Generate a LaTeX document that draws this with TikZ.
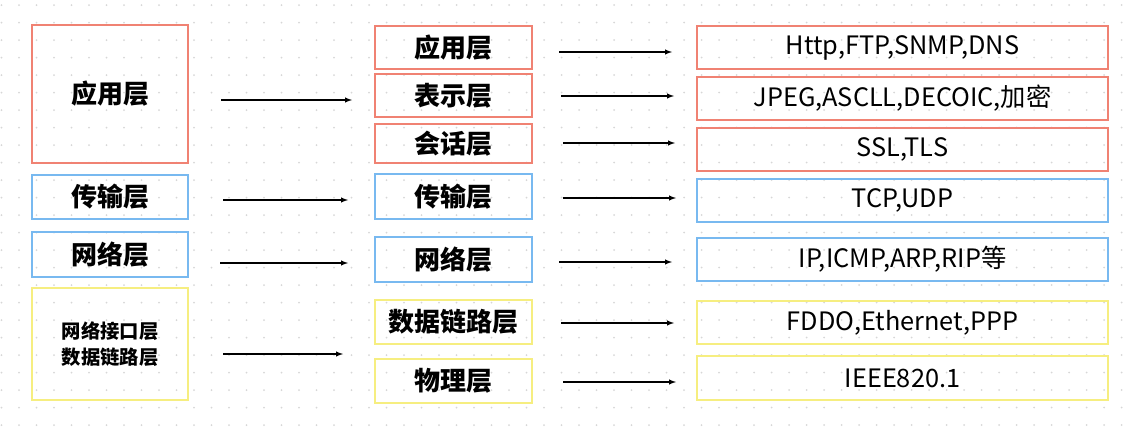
\documentclass[tikz,border=0pt]{standalone}
\usepackage{fontspec}
\setmainfont{Noto Sans CJK SC}
\usepackage{tikz}

\definecolor{layred}{RGB}{240,130,115}
\definecolor{layblue}{RGB}{120,185,240}
\definecolor{layyellow}{RGB}{246,238,128}
\definecolor{dotgray}{RGB}{215,215,215}

\begin{document}
\begin{tikzpicture}[x=0.75pt,y=0.75pt,yscale=-1,xscale=1,
  layer/.style={draw, line width=1.1pt, inner sep=0pt, font=\fontsize{19}{21}\selectfont},
  redlayer/.style={layer, draw=layred},
  bluelayer/.style={layer, draw=layblue},
  yellowlayer/.style={layer, draw=layyellow},
  leftcol/.style={minimum width=117pt, font=\fontsize{19.5}{21}\selectfont\bfseries},
  midcol/.style={minimum width=117.75pt, font=\fontsize{19.5}{21}\selectfont\bfseries},
  rightcol/.style={minimum width=308.25pt},
  flow/.style={-latex, line width=0.8pt}]
\useasboundingbox (0,0) rectangle (1133,429);

%Background dots
\foreach \i in {0,...,64}
  \foreach \j in {0,...,24}
    \fill[dotgray] (1.5+17.5*\i,5+17.5*\j) circle (1);

%Shape: Rectangle [left, TCP/IP]
\node[redlayer, leftcol, minimum height=103.5pt] (lapp) at (110,94) {应用层};
\node[bluelayer, leftcol, minimum height=33pt] (ltrans) at (110,197) {传输层};
\node[bluelayer, leftcol, minimum height=33.75pt] (lnet) at (110,254.5) {网络层};
\node[yellowlayer, leftcol, minimum height=84pt, font=\fontsize{14.5}{19}\selectfont\bfseries, align=center] (llink) at (110,344) {网络接口层\\数据链路层};

%Shape: Rectangle [middle, OSI]
\node[redlayer, midcol, minimum height=32.25pt] (mapp) at (453.5,47.5) {应用层};
\node[redlayer, midcol, minimum height=32.25pt] (mpre) at (453.5,95.5) {表示层};
\node[redlayer, midcol, minimum height=29.25pt] (mses) at (453.5,143.5) {会话层};
\node[bluelayer, midcol, minimum height=33.75pt] (mtrans) at (453.5,196.5) {传输层};
\node[bluelayer, midcol, minimum height=33.75pt] (mnet) at (453.5,259.5) {网络层};
\node[yellowlayer, midcol, minimum height=33pt] (mlink) at (453.5,322) {数据链路层};
\node[yellowlayer, midcol, minimum height=33pt] (mphy) at (453.5,381) {物理层};

%Shape: Rectangle [right, protocols]
\node[redlayer, rightcol, minimum height=32.25pt] (rapp) at (902.5,47.5) {Http,FTP,SNMP,DNS};
\node[redlayer, rightcol, minimum height=32.25pt] (rpre) at (902.5,98.5) {JPEG,ASCLL,DECOIC,加密};
\node[redlayer, rightcol, minimum height=32.25pt] (rses) at (902.5,149.5) {SSL,TLS};
\node[bluelayer, rightcol, minimum height=32.25pt] (rtrans) at (902.5,200.5) {TCP,UDP};
\node[bluelayer, rightcol, minimum height=32.25pt] (rnet) at (902.5,259.5) {IP,ICMP,ARP,RIP等};
\node[yellowlayer, rightcol, minimum height=32.25pt] (rlink) at (902.5,322.5) {FDDO,Ethernet,PPP};
\node[yellowlayer, rightcol, minimum height=33pt] (rphy) at (902.5,378) {IEEE820.1};

%Straight Lines [left to middle]
\coordinate (app-s) at (221,100);   \coordinate (app-e) at (352,100);
\coordinate (trans-s) at (223,200); \coordinate (trans-e) at (348,200);
\coordinate (net-s) at (220,263);   \coordinate (net-e) at (348,263);
\coordinate (link-s) at (223,354);  \coordinate (link-e) at (343,354);
\draw[flow] (app-s) -- (app-e);
\draw[flow] (trans-s) -- (trans-e);
\draw[flow] (net-s) -- (net-e);
\draw[flow] (link-s) -- (link-e);

%Straight Lines [middle to right]
\coordinate (mapp-s) at (559,52);    \coordinate (mapp-e) at (672,52);
\coordinate (mpre-s) at (561,96);    \coordinate (mpre-e) at (674,96);
\coordinate (mses-s) at (563,143);   \coordinate (mses-e) at (675,143);
\coordinate (mtrans-s) at (563,198); \coordinate (mtrans-e) at (676,198);
\coordinate (mnet-s) at (559,262);   \coordinate (mnet-e) at (672,262);
\coordinate (mlink-s) at (561,323);  \coordinate (mlink-e) at (674,323);
\coordinate (mphy-s) at (563,382);   \coordinate (mphy-e) at (676,382);
\draw[flow] (mapp-s) -- (mapp-e);
\draw[flow] (mpre-s) -- (mpre-e);
\draw[flow] (mses-s) -- (mses-e);
\draw[flow] (mtrans-s) -- (mtrans-e);
\draw[flow] (mnet-s) -- (mnet-e);
\draw[flow] (mlink-s) -- (mlink-e);
\draw[flow] (mphy-s) -- (mphy-e);

\end{tikzpicture}
\end{document}
